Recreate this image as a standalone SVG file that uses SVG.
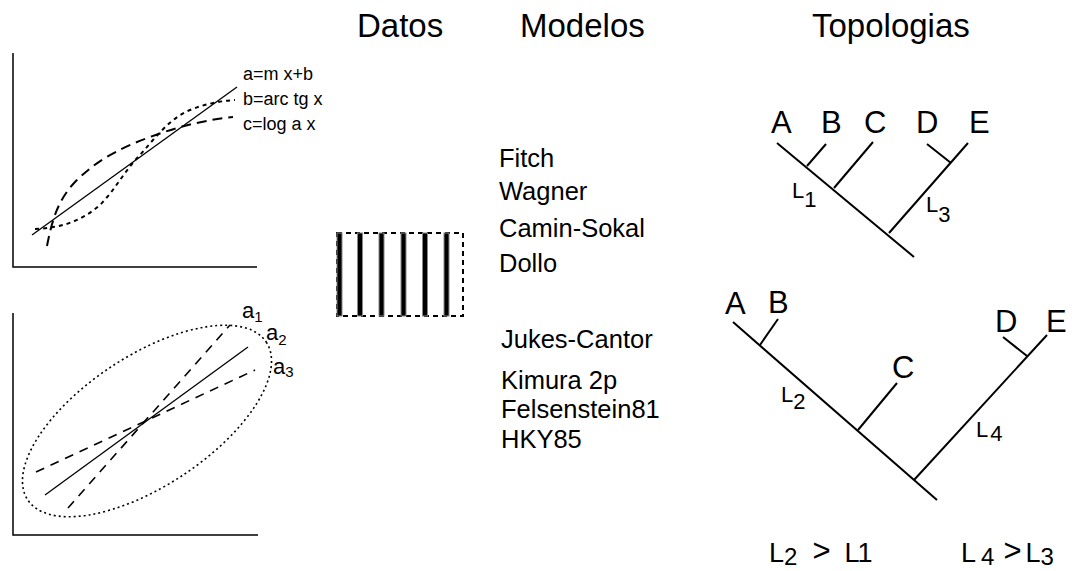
<svg xmlns="http://www.w3.org/2000/svg" width="1075" height="571" viewBox="0 0 1075 571">
<style>
text{font-family:"Liberation Sans",Arial,sans-serif;fill:#000}
.hdr{font-size:33px}
.mdl{font-size:25.5px}
.lbl{font-size:18px}
.tip{font-size:31px}
.br{font-size:22px}
.cmp{font-size:27px}
.ln{stroke:#000;fill:none}
.solid{stroke-width:1.3}
.long{stroke-width:2;stroke-dasharray:10 6}
.short{stroke-width:2;stroke-dasharray:4 4}
.dot{stroke-width:1.6;stroke-dasharray:2 3}
.tree{stroke-width:2}
.bar{fill:#000;stroke:#888;stroke-width:1}
</style>
<rect width="1075" height="571" fill="#fff"/>
<g id="headers">
<text class="hdr" x="357" y="37">Datos</text>
<text class="hdr" x="520" y="37">Modelos</text>
<text class="hdr" x="812" y="37">Topologias</text>
</g>
<g id="chart-curves">
<path class="ln" stroke-width="1.5" d="M13,53 V267 H257"/>
<path class="ln solid" d="M32,235 L237,87"/>
<path class="ln short" d="M35,229 C60,228 80,222 100,205 C115,190 125,170 140,155 C155,138 170,118 190,110 C205,104 220,101 235,100"/>
<path class="ln long" d="M47,246 C52,220 58,200 75,182 C95,162 115,150 150,137 C180,126 205,120 233,117"/>
<text class="lbl" x="243" y="80">a=m x+b</text>
<text class="lbl" x="243" y="105">b=arc tg x</text>
<text class="lbl" x="243" y="130">c=log a x</text>
</g>
<g id="chart-ellipse">
<path class="ln" stroke-width="1.5" stroke="#444" d="M13,313 V535 H258"/>
<ellipse class="ln dot" cx="147" cy="421" rx="143" ry="65" transform="rotate(-33.5 147 421)"/>
<path class="ln solid" d="M45,495 L248,347"/>
<path class="ln" stroke-width="1.6" stroke-dasharray="9 7" d="M68,508 L230,325"/>
<path class="ln" stroke-width="1.6" stroke-dasharray="9 7" d="M36,472 L255,370"/>
<text x="242" y="318" font-size="22">a<tspan font-size="15" dy="4">1</tspan></text>
<text x="266" y="340" font-size="22">a<tspan font-size="15" dy="5">2</tspan></text>
<text x="273" y="374" font-size="22">a<tspan font-size="15" dy="3">3</tspan></text>
</g>
<g id="data-matrix">
<rect x="337" y="233" width="126" height="83" fill="none" stroke="#000" stroke-width="2" stroke-dasharray="5 4"/>
<rect class="bar" x="337" y="233" width="5" height="83"/>
<rect class="bar" x="357.5" y="233" width="5" height="83"/>
<rect class="bar" x="379" y="233" width="5" height="83"/>
<rect class="bar" x="401" y="233" width="5" height="83"/>
<rect class="bar" x="422.5" y="233" width="5" height="83"/>
<rect class="bar" x="444" y="233" width="5" height="83"/>
</g>
<g id="models-parsimony">
<text class="mdl" x="499" y="167">Fitch</text>
<text class="mdl" x="499" y="200">Wagner</text>
<text class="mdl" x="499" y="237">Camin-Sokal</text>
<text class="mdl" x="499" y="272">Dollo</text>
</g>
<g id="models-distance">
<text class="mdl" x="501" y="348">Jukes-Cantor</text>
<text class="mdl" x="501" y="389">Kimura 2p</text>
<text class="mdl" x="501" y="418">Felsenstein81</text>
<text class="mdl" x="501" y="448">HKY85</text>
</g>
<g id="tree1">
<g class="ln tree">
<path d="M777,143 L914,257"/>
<path d="M807,166 L826,144"/>
<path d="M834,188 L873,142"/>
<path d="M889,233 L968,143"/>
<path d="M927,144 L951,163"/>
</g>
<text class="tip" x="771" y="133">A</text>
<text class="tip" x="821" y="133">B</text>
<text class="tip" x="864" y="133">C</text>
<text class="tip" x="916" y="133">D</text>
<text class="tip" x="969" y="133">E</text>
<text class="br" x="792" y="198">L<tspan dy="9">1</tspan></text>
<text class="br" x="926" y="212">L<tspan dy="10">3</tspan></text>
</g>
<g id="tree2">
<g class="ln tree">
<path d="M733,322 L937,500"/>
<path d="M760,345 L778,319"/>
<path d="M858,430 L897,383"/>
<path d="M914,480 L1047,335"/>
<path d="M1003,337 L1027,356"/>
</g>
<text class="tip" x="725" y="314">A</text>
<text class="tip" x="768" y="313">B</text>
<text class="tip" x="892" y="378">C</text>
<text class="tip" x="995" y="332">D</text>
<text class="tip" x="1046" y="332">E</text>
<text class="br" x="781" y="402">L<tspan dy="7">2</tspan></text>
<text class="br" x="976" y="437">L<tspan dx="2" dy="4">4</tspan></text>
</g>
<g id="comparison">
<text class="cmp" x="769" y="562">L<tspan font-size="24" dy="3">2</tspan><tspan font-size="31" dx="15" dy="-4">&gt;</tspan><tspan dx="14" dy="1">L</tspan><tspan dx="-2">1</tspan></text>
<text class="cmp" x="961" y="562">L<tspan font-size="24" dx="5" dy="3">4</tspan><tspan font-size="31" dx="9" dy="-4">&gt;</tspan><tspan dx="4" dy="1">L</tspan><tspan font-size="24" dx="0" dy="3">3</tspan></text>
</g>
</svg>
